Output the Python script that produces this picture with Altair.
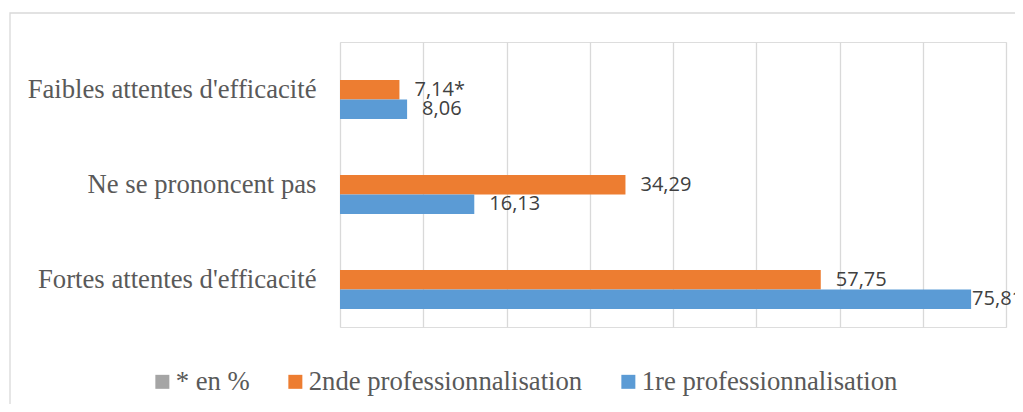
import altair as alt
import pandas as pd

categories = ["Faibles attentes d'efficacité", "Ne se prononcent pas\u00a0", "Fortes attentes d'efficacité"]
series = ["2nde professionnalisation", "1re professionnalisation"]
values_2nde = [7.14, 34.29, 57.75]
values_1re = [8.06, 16.13, 75.81]
notes_2nde = ["*", "", ""]
notes_1re = ["", "", ""]
legend_items = ["* en %", "2nde professionnalisation", "1re professionnalisation"]
legend_colors = ["#A5A5A5", "#ED7D31", "#5B9BD5"]
x_ticks = [0, 10, 20, 30, 40, 50, 60, 70, 80]

rows = []
for cat, v, n in zip(categories, values_2nde, notes_2nde):
    rows.append({"cat": cat, "series": series[0], "value": v,
                 "label": f"{v:.2f}".replace(".", ",") + n})
for cat, v, n in zip(categories, values_1re, notes_1re):
    rows.append({"cat": cat, "series": series[1], "value": v,
                 "label": f"{v:.2f}".replace(".", ",") + n})
df = pd.DataFrame(rows)

W, H = 666, 285

y_enc = alt.Y("cat:N", sort=categories,
              scale=alt.Scale(paddingInner=0.59, paddingOuter=0.295, align=0.68),
              axis=alt.Axis(title=None, ticks=False, domain=False, grid=False,
                            labelFont="Liberation Serif", labelFontSize=26.7,
                            labelColor="#595959", labelPadding=24, labelLimit=0,
                            labelBaseline="alphabetic", labelOffset=-2))
yoff = alt.YOffset("series:N", sort=series, scale=alt.Scale(paddingInner=0, paddingOuter=0))
x_enc = alt.X("value:Q", scale=alt.Scale(domain=[0, 80], nice=False),
              axis=alt.Axis(title=None, values=x_ticks, labels=False, ticks=False,
                            domain=False, grid=True, gridColor="#D9D9D9", gridWidth=1.3))

base = alt.Chart(df)

bars = base.mark_bar().encode(
    y=y_enc, yOffset=yoff, x=x_enc,
    color=alt.Color("series:N",
                    scale=alt.Scale(domain=legend_items, range=legend_colors),
                    legend=alt.Legend(title=None, orient="none", direction="horizontal",
                                      legendX=-191, legendY=326,
                                      symbolType="square", symbolSize=196,
                                      symbolStrokeWidth=0, symbolOpacity=1,
                                      labelFont="Liberation Serif", labelFontSize=26.7,
                                      labelColor="#595959", labelOffset=0, labelLimit=0,
                                      columnPadding=32, padding=0)),
)

labels_near = base.transform_filter("datum.value < 70").mark_text(
    align="left", baseline="middle", dx=15, font="Open Sans", fontSize=20, color="#404040"
).encode(y=alt.Y("cat:N", sort=categories), yOffset=alt.YOffset("series:N", sort=series),
         x=alt.X("value:Q"), text="label:N")

labels_far = base.transform_filter("datum.value >= 70").mark_text(
    align="left", baseline="middle", dx=1, font="Open Sans", fontSize=20, color="#404040"
).encode(y=alt.Y("cat:N", sort=categories), yOffset=alt.YOffset("series:N", sort=series),
         x=alt.X("value:Q"), text="label:N")

border = alt.Chart(alt.Data(values=[{}])).mark_rect(
    fill="transparent", stroke="#D9D9D9", strokeWidth=1.3
).encode(x=alt.value(-330), x2=alt.value(720), y=alt.value(-29), y2=alt.value(420))

chart = alt.layer(border, bars, labels_near, labels_far).properties(
    width=W, height=H,
    autosize=alt.AutoSizeParams(type="none"),
    padding={"left": 332, "top": 34, "right": 9, "bottom": 77},
).configure_view(stroke=None).configure(background="white")

chart.save("out.html", embed_options={"renderer": "svg", "actions": False})
